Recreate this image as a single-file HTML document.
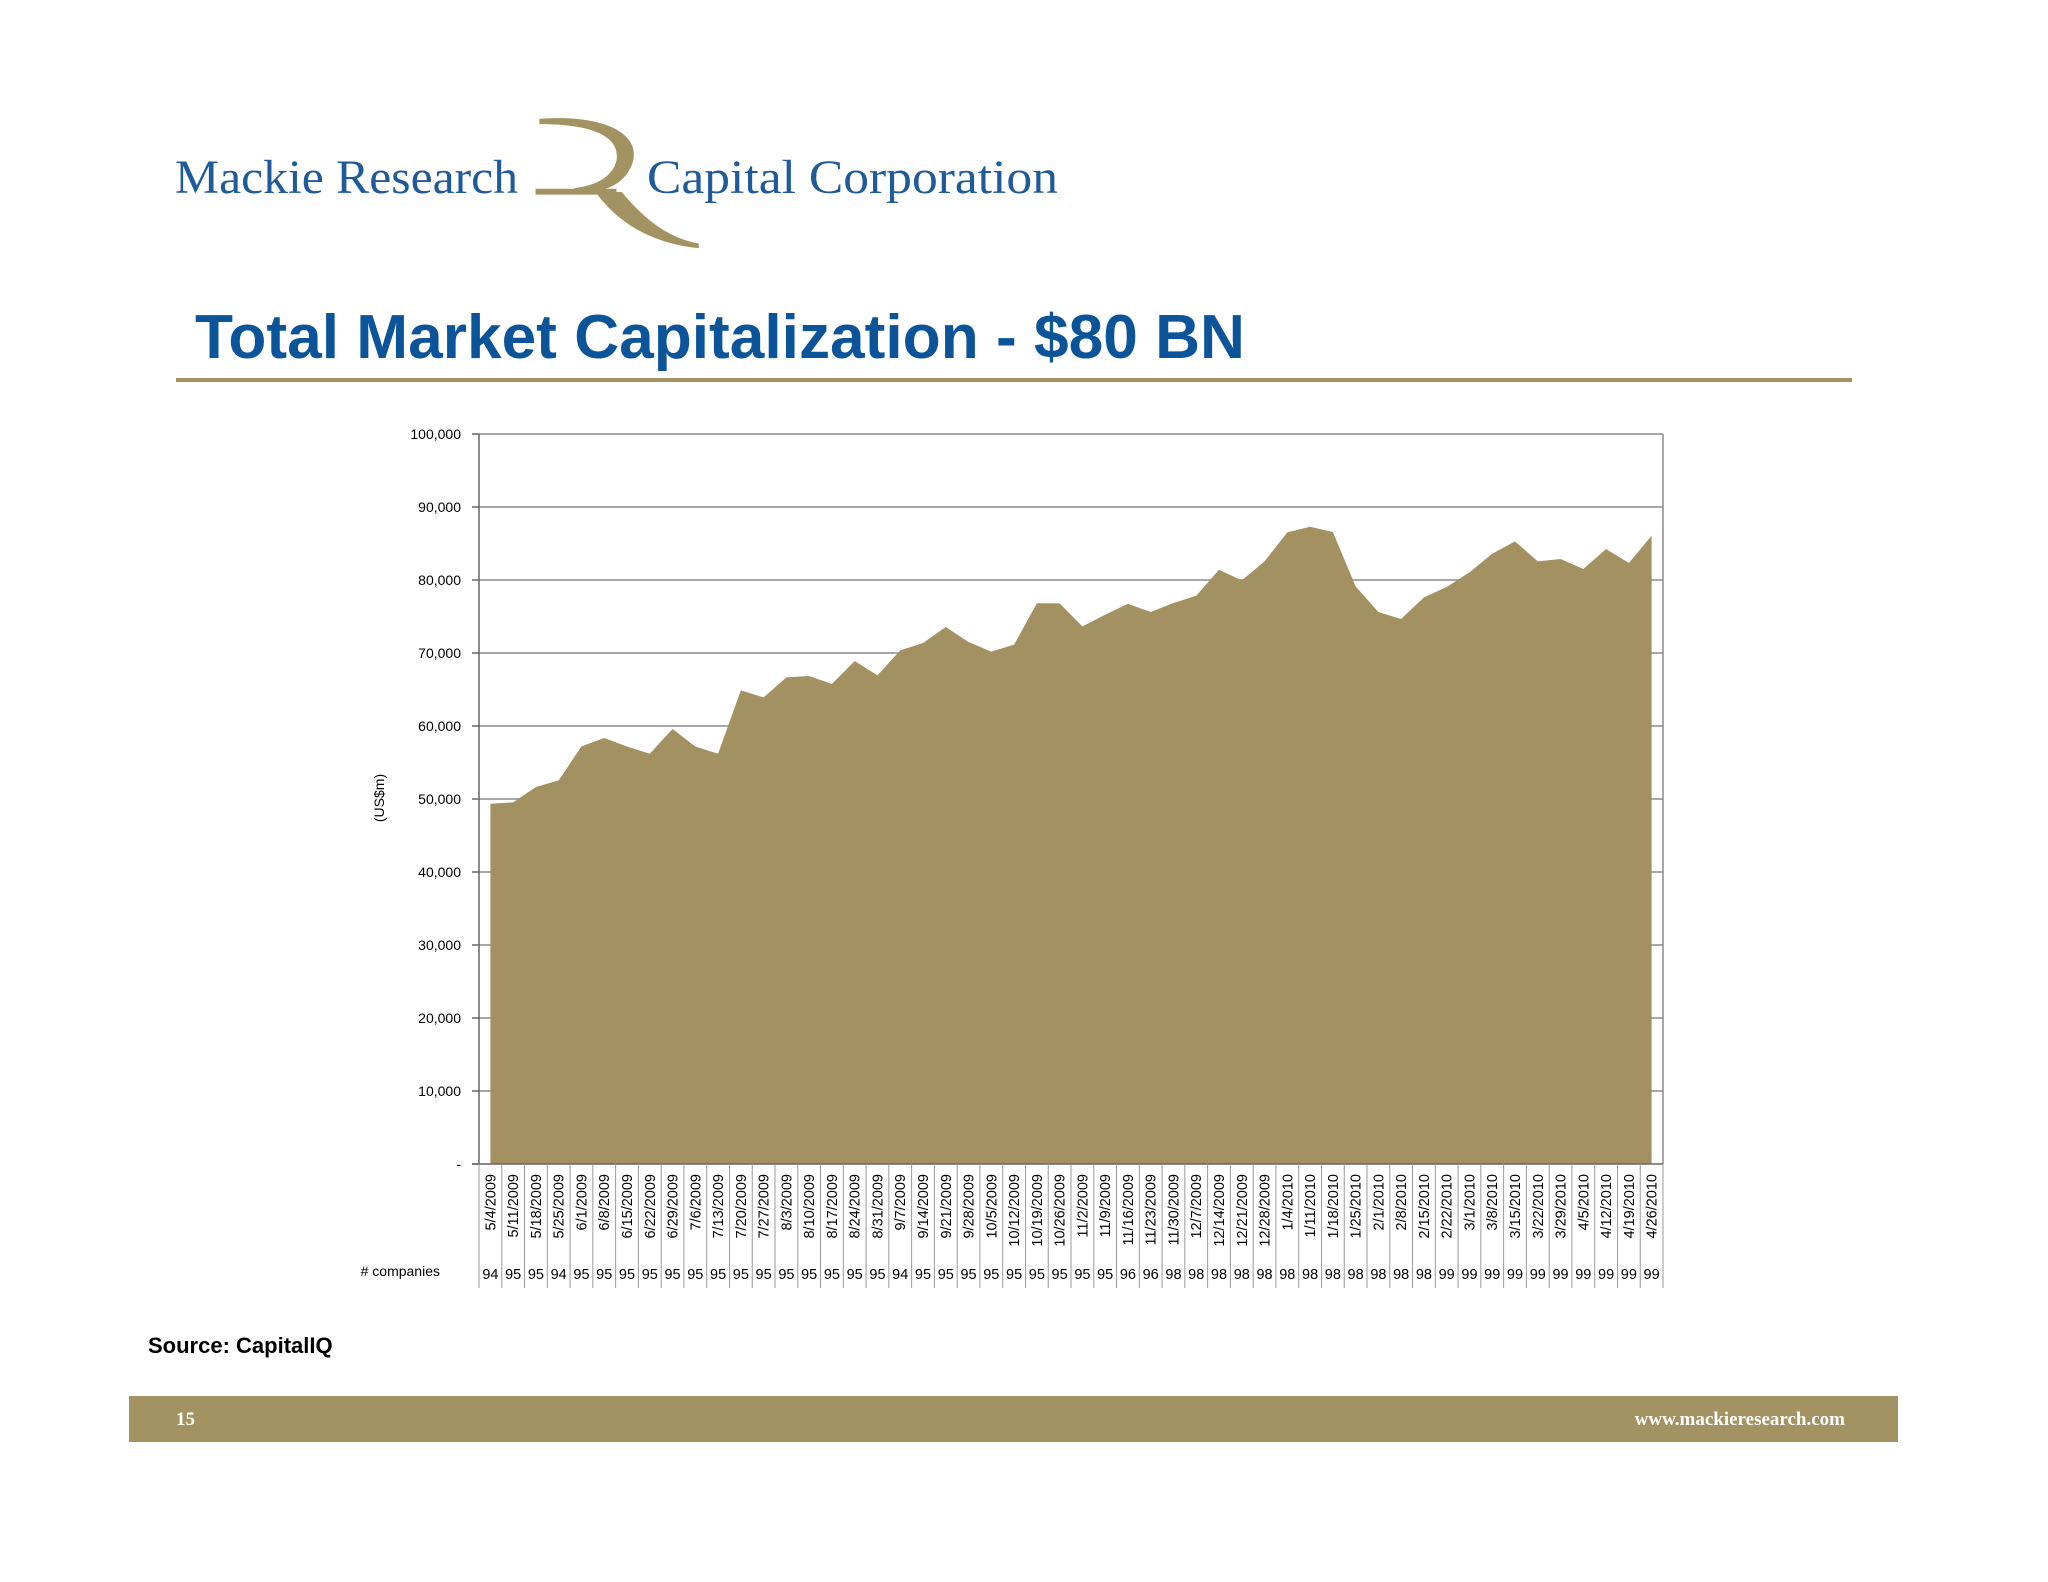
<!DOCTYPE html>
<html><head><meta charset="utf-8"><style>
html,body{margin:0;padding:0;background:#fff;}
svg{display:block;font-family:"Liberation Sans",Arial,sans-serif;}
</style></head><body>
<svg id="page" width="2048" height="1582" viewBox="0 0 2048 1582" xmlns="http://www.w3.org/2000/svg">
<g>
<text x="175" y="193" font-family="Liberation Serif, serif" font-size="48" fill="#1f5a9a" textLength="343" lengthAdjust="spacingAndGlyphs">Mackie Research</text>
<g transform="scale(1.30612)" fill="#a39262">
<path d="M413,91 C465,87 494,104 483,128 C476,143 460,148 440,148 L440,144 C457,142 469,135 472,123 C475,105 455,95 413,95 Z"/>
<path d="M410,144.5 L472,144.5 L472,149 L410,149 Z"/>
<path d="M456,147 C470,167 495,186 535,190 L535,186.5 C510,182 492,166 476,147 Z"/>
</g>
<text x="647" y="193" font-family="Liberation Serif, serif" font-size="48" fill="#1f5a9a" textLength="411" lengthAdjust="spacingAndGlyphs">Capital Corporation</text>
</g>
<text x="195" y="358" font-size="62" font-weight="bold" fill="#0b5499" textLength="1050" lengthAdjust="spacingAndGlyphs">Total Market Capitalization - $80 BN</text>
<rect x="176" y="378" width="1676" height="4" fill="#a39262"/>
<g id="chart"></g>
<text x="148" y="1353" font-size="22" font-weight="bold" fill="#000">Source: CapitalIQ</text>
<rect x="129" y="1396" width="1769" height="46" fill="#a39262"/>
<text x="176" y="1425" font-family="Liberation Serif, serif" font-size="19" font-weight="bold" fill="#fff">15</text>
<text x="1845" y="1425" text-anchor="end" font-family="Liberation Serif, serif" font-size="19" font-weight="bold" fill="#fff">www.mackieresearch.com</text>
</svg>
<script>
const dates = ["5/4/2009","5/11/2009","5/18/2009","5/25/2009","6/1/2009","6/8/2009","6/15/2009","6/22/2009","6/29/2009","7/6/2009","7/13/2009","7/20/2009","7/27/2009","8/3/2009","8/10/2009","8/17/2009","8/24/2009","8/31/2009","9/7/2009","9/14/2009","9/21/2009","9/28/2009","10/5/2009","10/12/2009","10/19/2009","10/26/2009","11/2/2009","11/9/2009","11/16/2009","11/23/2009","11/30/2009","12/7/2009","12/14/2009","12/21/2009","12/28/2009","1/4/2010","1/11/2010","1/18/2010","1/25/2010","2/1/2010","2/8/2010","2/15/2010","2/22/2010","3/1/2010","3/8/2010","3/15/2010","3/22/2010","3/29/2010","4/5/2010","4/12/2010","4/19/2010","4/26/2010"];
const marketCap = [49350,49540,51640,52550,57210,58350,57200,56200,59590,57200,56200,64880,63920,66660,66850,65750,68900,66940,70360,71370,73560,71510,70180,71140,76800,76800,73650,75240,76750,75610,76850,77850,81410,79950,82550,86520,87300,86570,79130,75610,74650,77620,79040,81040,83600,85290,82550,82870,81500,84240,82330,86060];
const companies = [94,95,95,94,95,95,95,95,95,95,95,95,95,95,95,95,95,95,94,95,95,95,95,95,95,95,95,95,96,96,98,98,98,98,98,98,98,98,98,98,98,98,99,99,99,99,99,99,99,99,99,99];
const yTicks = [0,10000,20000,30000,40000,50000,60000,70000,80000,90000,100000];
const yTickLabels = ["-","10,000","20,000","30,000","40,000","50,000","60,000","70,000","80,000","90,000","100,000"];

const NS="http://www.w3.org/2000/svg";
const g=document.getElementById('chart');
const L=479,R=1663,T=434,B=1164;
const n=dates.length, bw=(R-L)/n;
const xc=i=>L+bw*(i+0.5);
const y=v=>B-(v/100000)*(B-T);
function mk(tag,attrs){const e=document.createElementNS(NS,tag);for(const k in attrs)e.setAttribute(k,attrs[k]);g.appendChild(e);return e;}

yTicks.forEach((v,i)=>{
  if(v>0){const gl=mk('line',{x1:L,x2:R,y1:y(v),y2:y(v),stroke:'#8a8a8a','stroke-width':1.5});
  
  }
  const tk=mk('line',{x1:L-7,x2:L,y1:y(v),y2:y(v),stroke:'#666','stroke-width':1.5});
  
  
  const t=mk('text',{x:461,y:y(v)+5,'text-anchor':'end','font-size':14,fill:'#000'});
  t.textContent=yTickLabels[i];
  
  
});
let d=`M${xc(0)},${B}`;
marketCap.forEach((v,i)=>{d+=` L${xc(i)},${y(v)}`;});
d+=` L${xc(n-1)},${B} Z`;
const area=mk('path',{d:d,fill:'#a39162'});


const ax=mk('line',{x1:L,x2:L,y1:T,y2:B,stroke:'#666','stroke-width':1.5});


const rb=mk('line',{x1:R,x2:R,y1:T,y2:B,stroke:'#8a8a8a','stroke-width':1.5});


const xa=mk('line',{x1:L-7,x2:R,y1:B,y2:B,stroke:'#666','stroke-width':1.5});


const yt=mk('text',{x:0,y:0,'text-anchor':'middle','font-size':14,fill:'#000',transform:'translate(384,798) rotate(-90)'});
yt.textContent='(US$m)';


for(let i=0;i<=n;i++){
  const sx=L+bw*i;
  const sep=mk('line',{x1:sx,x2:sx,y1:B,y2:1288,stroke:'#999','stroke-width':1});
  
  
}
dates.forEach((lab,i)=>{
  const t=mk('text',{x:0,y:0,'text-anchor':'end','font-size':14.5,fill:'#000',transform:`translate(${xc(i)+5},1174) rotate(-90)`});
  t.textContent=lab;
  
  
  const c=mk('text',{x:xc(i),y:1279,'text-anchor':'middle','font-size':14.5,fill:'#000'});
  c.textContent=companies[i];
  
  
});
const cl=mk('text',{x:440,y:1276,'text-anchor':'end','font-size':14,fill:'#000'});
cl.textContent='# companies';


</script>
</body></html>
